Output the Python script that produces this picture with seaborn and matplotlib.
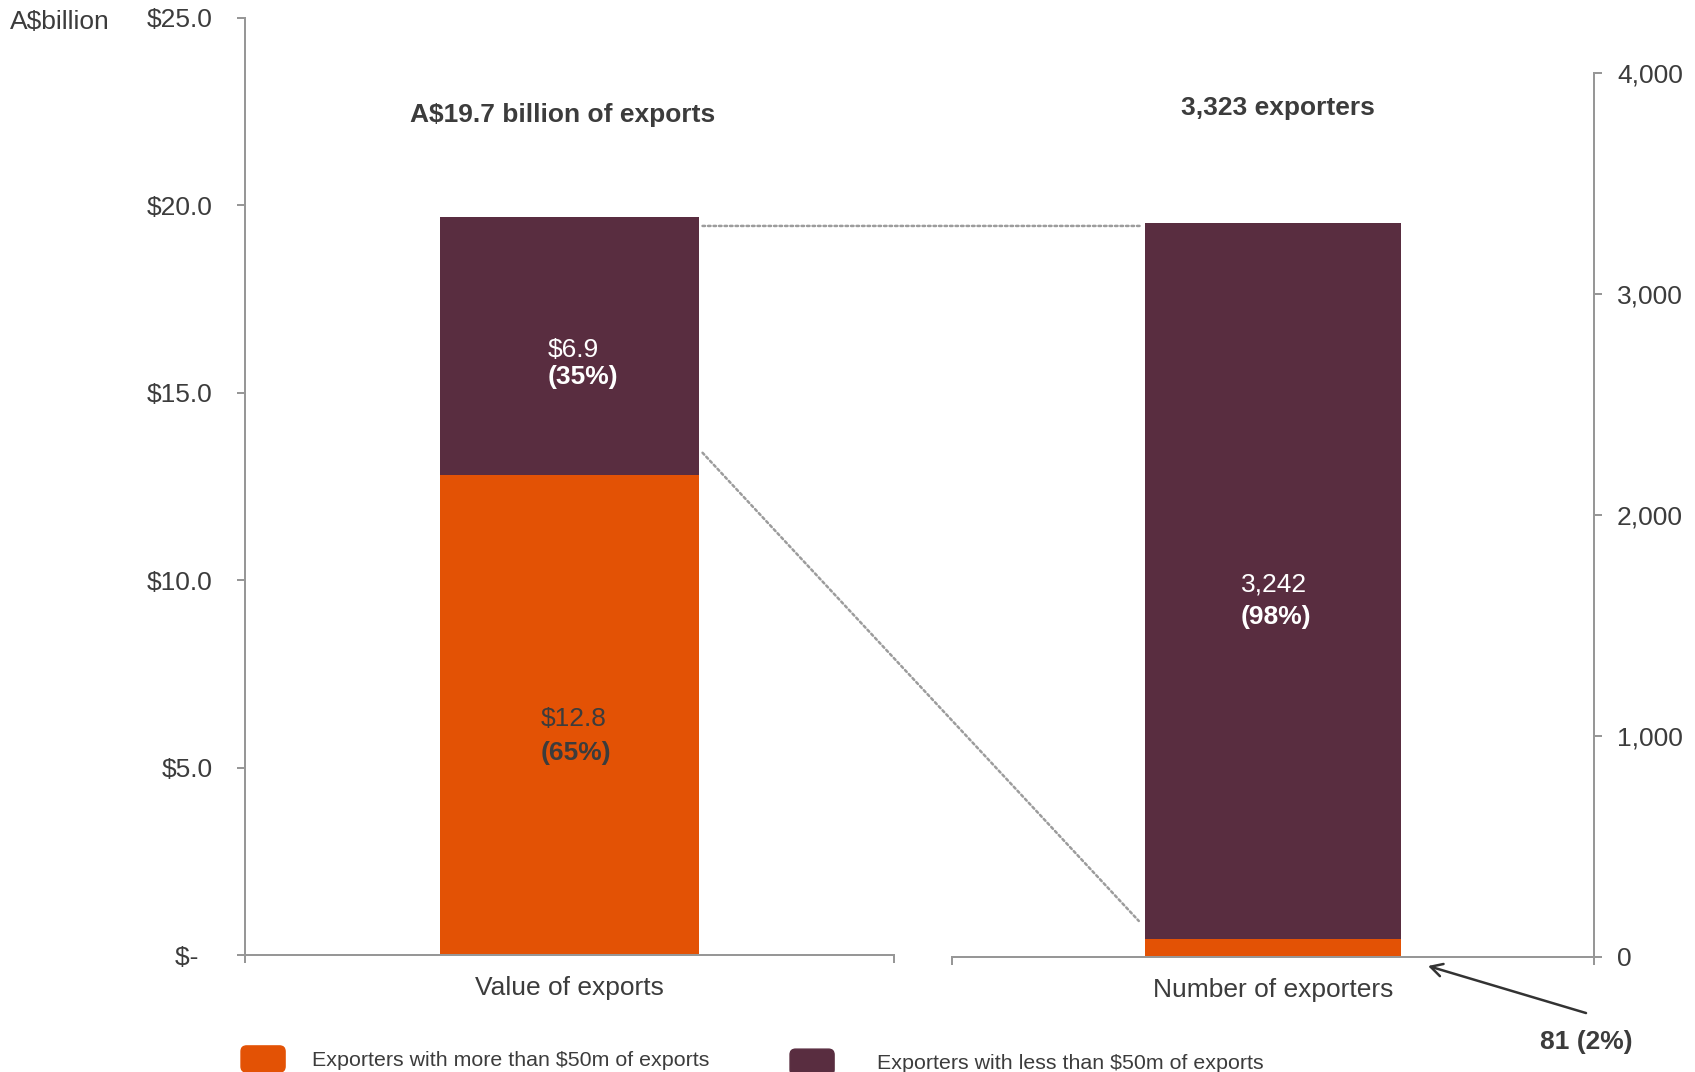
import matplotlib
matplotlib.use("Agg")
import matplotlib.pyplot as plt
import matplotlib.transforms as mtransforms
from matplotlib.patches import Patch, FancyBboxPatch, ConnectionPatch
from matplotlib.legend_handler import HandlerPatch
import seaborn as sns
import pandas as pd

# ---- data -------------------------------------------------------------
categories = ["Value of exports", "Number of exporters"]
series_names = ["Exporters with more than $50m of exports",
                "Exporters with less than $50m of exports"]
export_value_bn = [12.8, 6.9]        # A$ billion: >$50m exporters, <$50m exporters
exporter_count = [81, 3242]          # number of exporters: >$50m, <$50m
value_share = ["65%", "35%"]
count_share = ["2%", "98%"]
value_ticks = [0, 5, 10, 15, 20, 25]
value_tick_labels = ["$-  ", "$5.0", "$10.0", "$15.0", "$20.0", "$25.0"]
count_ticks = [0, 1000, 2000, 3000, 4000]
count_tick_labels = ["0", "1,000", "2,000", "3,000", "4,000"]

# ---- style ------------------------------------------------------------
ORANGE = "#E35205"
PLUM = "#592D40"
INK = "#3c3c3c"
AXIS = "#979797"
DOT = "#9c9c9c"
FS = 19

sns.set_theme(style="white")
plt.rcParams["font.family"] = ["Liberation Sans", "DejaVu Sans"]
plt.rcParams["text.color"] = INK

fig = plt.figure(figsize=(16.95, 10.72), dpi=100)
ax_val = fig.add_axes([0.14454, 0.10914, 0.38289, 0.87407])
ax_cnt = fig.add_axes([0.56165, 0.10728, 0.37876, 0.82462])


def stacked_bar(ax, label, parts):
    """Draw a two-part stacked bar: full total in plum, lower part in orange."""
    total = sum(parts)
    df = pd.DataFrame({"cat": [label], "total": [total], "base": [parts[0]]})
    sns.barplot(data=df, x="cat", y="total", color=PLUM, saturation=1,
                width=0.4, errorbar=None, linewidth=0, ax=ax)
    sns.barplot(data=df, x="cat", y="base", color=ORANGE, saturation=1,
                width=0.4, errorbar=None, linewidth=0, ax=ax)
    return total


total_value = stacked_bar(ax_val, categories[0], export_value_bn)
total_count = stacked_bar(ax_cnt, categories[1], exporter_count)

ax_val.set_ylim(0, 25)
ax_cnt.set_ylim(0, 4000)

for ax in (ax_val, ax_cnt):
    ax.set_xlim(-0.5, 0.5)
    ax.set_xlabel("")
    ax.set_ylabel("")
    ax.spines["top"].set_visible(False)
    for sp in ax.spines.values():
        sp.set_color(AXIS)
        sp.set_linewidth(1.44)
    ax.set_xticks([-0.5, 0.5], minor=True)
    ax.tick_params(axis="x", which="major", length=0, pad=15,
                   labelsize=FS, labelcolor=INK)
    ax.tick_params(axis="x", which="minor", bottom=True, length=5.8,
                   width=1.44, color=AXIS, direction="out")
    ax.set_facecolor("none")

# left axis: A$ billion
ax_val.spines["right"].set_visible(False)
ax_val.set_yticks(value_ticks, value_tick_labels)
ax_val.tick_params(axis="y", left=True, length=5.8, width=1.44, color=AXIS,
                   direction="out", pad=17.5, labelsize=FS, labelcolor=INK)

# right axis: number of exporters
ax_cnt.spines["left"].set_visible(False)
ax_cnt.yaxis.set_ticks_position("right")
ax_cnt.set_yticks(count_ticks, count_tick_labels)
ax_cnt.tick_params(axis="y", right=True, left=False, labelright=True,
                   labelleft=False, length=5.8, width=1.44, color=AXIS,
                   direction="out", pad=10.8, labelsize=FS, labelcolor=INK)

# ---- segment labels ---------------------------------------------------
def segment_label(ax, x, mid, value_txt, share_txt, color, gap_pt):
    ax.annotate(value_txt, xy=(x, mid), xytext=(0, -7.8),
                textcoords="offset points", ha="left", va="baseline",
                fontsize=FS, color=color)
    ax.annotate(f"({share_txt})", xy=(x, mid), xytext=(0, -7.8 - gap_pt),
                textcoords="offset points", ha="left", va="baseline",
                fontsize=FS, fontweight="bold", color=color)


segment_label(ax_val, -0.044, export_value_bn[0] / 2,
              f"${export_value_bn[0]:.1f}", value_share[0], INK, 24.5)
segment_label(ax_val, -0.033, export_value_bn[0] + export_value_bn[1] / 2,
              f"${export_value_bn[1]:.1f}", value_share[1], "white", 19.5)
segment_label(ax_cnt, -0.05, exporter_count[0] + exporter_count[1] / 2,
              f"{exporter_count[1]:,}", count_share[1], "white", 23)

# ---- headers ----------------------------------------------------------
ax_val.text(0.49, 0.889, f"A${total_value:.1f} billion of exports",
            transform=ax_val.transAxes, ha="center", va="baseline",
            fontsize=FS, fontweight="bold", color=INK)
ax_cnt.text(0.508, 0.9525, f"{total_count:,} exporters",
            transform=ax_cnt.transAxes, ha="center", va="baseline",
            fontsize=FS, fontweight="bold", color=INK)
fig.text(0.0059, 0.973, "A$billion", ha="left", va="baseline",
         fontsize=FS, color=INK)

# ---- dotted guide lines between the two bars ---------------------------
blend = mtransforms.blended_transform_factory(ax_val.transData, ax_cnt.transData)
dot_style = dict(color=DOT, lw=1.8, linestyle=(0, (1.0, 1.2)))
guide_top = ConnectionPatch(xyA=(0.205, total_count - 15), coordsA=blend,
                            xyB=(-0.205, total_count - 15),
                            coordsB=ax_cnt.transData, **dot_style)
guide_low = ConnectionPatch(xyA=(0.205, 13.4), coordsA=ax_val.transData,
                            xyB=(-0.209, 163), coordsB=ax_cnt.transData,
                            **dot_style)
fig.add_artist(guide_top)
fig.add_artist(guide_low)

# ---- callout for the small orange segment -------------------------------
fig.text(0.9357, 0.0215, f"{exporter_count[0]} ({count_share[0]})",
         ha="center", va="baseline", fontsize=FS, fontweight="bold", color=INK)
ax_cnt.annotate("", xy=(0.8425, 0.0989), xycoords="figure fraction",
                xytext=(0.9357, 0.055), textcoords="figure fraction",
                annotation_clip=False,
                arrowprops=dict(arrowstyle="->,head_length=0.7,head_width=0.38",
                                lw=1.8, color="#333333", shrinkA=0, shrinkB=0))

# ---- legend -----------------------------------------------------------
def rounded_patch(legend, orig_handle, xdescent, ydescent, width, height, fontsize):
    return FancyBboxPatch((-xdescent, -ydescent), width, height,
                          boxstyle="round,pad=0,rounding_size=4")


legend_kw = dict(loc="lower left", frameon=False, fontsize=15.4,
                 handlelength=2.06, handleheight=1.5, borderpad=0,
                 borderaxespad=0,
                 handler_map={Patch: HandlerPatch(patch_func=rounded_patch)})
leg_big = fig.legend(handles=[Patch(color=ORANGE, label=series_names[0])],
                     bbox_to_anchor=(0.1422, 0.0), handletextpad=1.26,
                     **legend_kw)
leg_small = fig.legend(handles=[Patch(color=PLUM, label=series_names[1])],
                       bbox_to_anchor=(0.4661, -0.003), handletextpad=2.0,
                       **legend_kw)
for leg in (leg_big, leg_small):
    for t in leg.get_texts():
        t.set_color(INK)

fig.savefig("out.png", dpi=100)
